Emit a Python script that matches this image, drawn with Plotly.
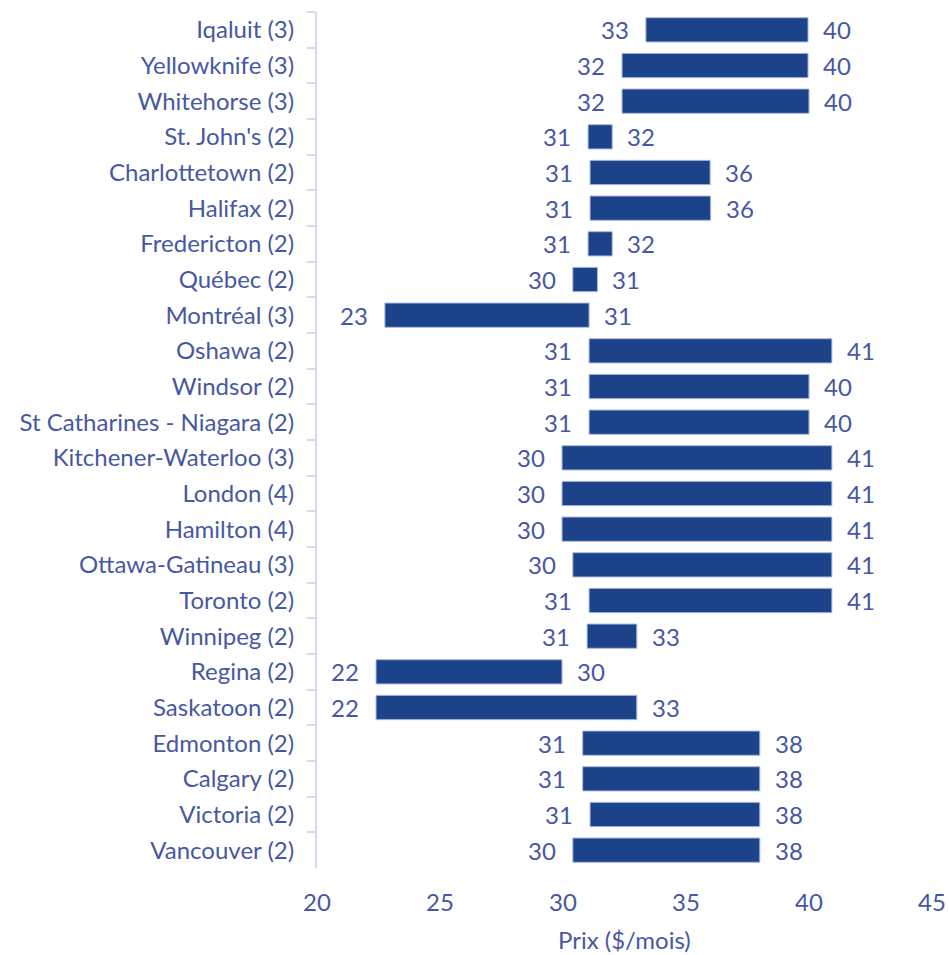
import plotly.graph_objects as go

cities = ["Iqaluit (3)", "Yellowknife (3)", "Whitehorse (3)", "St. John's (2)", "Charlottetown (2)",
          "Halifax (2)", "Fredericton (2)", "Québec (2)", "Montréal (3)", "Oshawa (2)", "Windsor (2)",
          "St Catharines - Niagara (2)", "Kitchener-Waterloo (3)", "London (4)", "Hamilton (4)",
          "Ottawa-Gatineau (3)", "Toronto (2)", "Winnipeg (2)", "Regina (2)", "Saskatoon (2)",
          "Edmonton (2)", "Calgary (2)", "Victoria (2)", "Vancouver (2)"]
low = [33.37, 32.4, 32.4, 31.02, 31.1, 31.1, 31.02, 30.4, 22.76, 31.06, 31.06, 31.06,
       29.96, 29.96, 29.96, 30.4, 31.06, 30.98, 22.4, 22.4, 30.8, 30.8, 31.1, 30.4]
high = [39.96, 39.96, 40.0, 32.0, 35.98, 36.0, 32.0, 31.4, 31.06, 40.93, 40.0, 40.0,
        40.93, 40.93, 40.93, 40.93, 40.93, 33.0, 29.96, 33.0, 38.0, 38.0, 38.0, 38.0]
low_labels = ["33", "32", "32", "31", "31", "31", "31", "30", "23", "31", "31", "31",
              "30", "30", "30", "30", "31", "31", "22", "22", "31", "31", "31", "30"]
high_labels = ["40", "40", "40", "32", "36", "36", "32", "31", "31", "41", "40", "40",
               "41", "41", "41", "41", "41", "33", "30", "33", "38", "38", "38", "38"]

TXT = "#4758A2"
BAR = "#1C4289"
FONT = "Lato, 'Open Sans', sans-serif"
FS = 24

fig = go.Figure()
fig.add_trace(go.Bar(
    y=cities, x=[h - l for l, h in zip(low, high)], base=low, orientation="h",
    marker=dict(color=BAR, line=dict(color="#A9B6DC", width=1)), width=0.68,
    hoverinfo="skip"))

ann = []
for c, l, h, lt, ht in zip(cities, low, high, low_labels, high_labels):
    ann.append(dict(x=l, y=c, text=lt, xanchor="right", xshift=-15, showarrow=False,
                    font=dict(size=FS, color=TXT, family=FONT)))
    ann.append(dict(x=h, y=c, text=ht, xanchor="left", xshift=13, showarrow=False,
                    font=dict(size=FS, color=TXT, family=FONT)))

ann.append(dict(x=0.5, y=-0.084, xref="paper", yref="paper", text="Prix ($/mois)",
                xanchor="center", yanchor="middle", showarrow=False,
                font=dict(size=FS, color=TXT, family=FONT)))

fig.update_layout(
    width=949, height=955,
    margin=dict(l=317, r=17, t=12, b=87),
    plot_bgcolor="white", paper_bgcolor="white",
    showlegend=False,
    font=dict(family=FONT, size=FS, color=TXT),
    annotations=ann,
    xaxis=dict(range=[20, 45], tickvals=[20, 25, 30, 35, 40, 45], showgrid=False,
               zeroline=False, showline=False, ticks="", automargin=False,
               ticklabelstandoff=18, tickfont=dict(size=FS, color=TXT)),
    yaxis=dict(categoryorder="array", categoryarray=cities, autorange="reversed",
               showgrid=False, showline=True, linecolor="#D6DAEE", linewidth=2,
               ticks="outside", tickson="boundaries", ticklen=8, tickcolor="#D6DAEE",
               tickwidth=2, tickfont=dict(size=FS, color=TXT), automargin=False,
               ticklabelstandoff=16),
)
fig.write_html("out.html", config={"displayModeBar": False},
               post_script="document.body.style.margin='0';document.body.style.overflow='hidden';")
